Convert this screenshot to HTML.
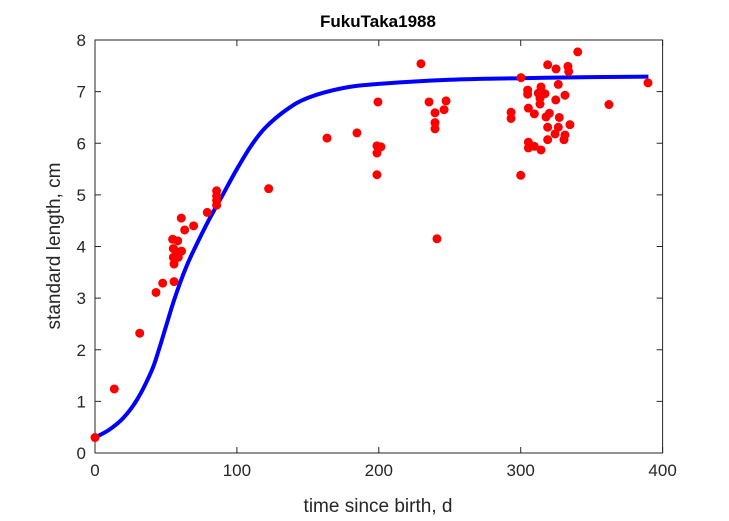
<!DOCTYPE html>
<html><head><meta charset="utf-8"><style>
body{margin:0;background:#fff;}
svg{display:block;font-family:"Liberation Sans",Arial,sans-serif;}
</style></head><body>
<svg id="chart" width="729" height="521">
<rect width="729" height="521" fill="#fff"/>
<rect x="95" y="40" width="567.6" height="413" fill="#fff" stroke="#262626" stroke-width="1"/>
<g id="axes"></g>
<g id="curve"></g>
<g id="points"></g>
<text x="378" y="27" text-anchor="middle" font-size="17" font-weight="bold" fill="#000">FukuTaka1988</text>
<text x="378" y="512" text-anchor="middle" font-size="19" fill="#262626">time since birth, d</text>
<text transform="translate(60,246) rotate(-90)" text-anchor="middle" font-size="19" fill="#262626">standard length, cm</text>
</svg>
<script>
const xTicks=[0,100,200,300,400];
const yTicks=[0,1,2,3,4,5,6,7,8];
const obsX=[0,13.6,31.5,43,47.7,55.7,55.7,55.2,58.7,55.2,61,57.6,54.7,58.3,60.8,63.2,69.5,79.1,85.7,85.7,85.7,85.7,122.4,
163.5,184.6,198.7,198.7,201.5,199.4,198.7,229.7,235.4,239.6,239.6,239.6,241,247.4,246,
340.2,319,324.9,333.3,333.8,300.2,389.7,326.5,304.9,314.3,304.9,312.4,317.1,313.6,331.2,324.7,313.6,362.2,293.2,293.2,305.4,309.6,320.2,317.8,327.2,334.7,319,326.5,324.2,331.2,330.5,319,305.4,305.4,309.6,314.3,300];
const obsY=[0.30,1.24,2.32,3.11,3.29,3.32,3.66,3.79,3.79,3.96,3.91,3.90,4.14,4.11,4.55,4.32,4.40,4.66,5.08,4.98,4.89,4.80,5.12,
6.10,6.20,5.81,5.95,5.93,6.80,5.39,7.54,6.80,6.59,6.40,6.28,4.15,6.82,6.65,
7.77,7.52,7.44,7.49,7.39,7.27,7.17,7.14,7.03,7.09,6.95,6.97,6.96,6.87,6.93,6.84,6.76,6.75,6.60,6.48,6.68,6.57,6.58,6.51,6.50,6.36,6.31,6.31,6.18,6.16,6.07,6.07,6.02,5.91,5.94,5.87,5.38];
const fitX=[0,10,20,30,40,45,50,55,60,65,70,80,90,100,110,120,135,150,175,200,250,300,350,390];
const fitY=[0.3,0.45,0.68,1.05,1.6,2.0,2.45,2.9,3.3,3.65,3.95,4.5,5.0,5.5,5.95,6.3,6.65,6.88,7.07,7.15,7.23,7.26,7.28,7.29];
const X0=95,X1=662.6,Y0=453,Y1=40;
function sx(v){return X0+(v-0)/(400-0)*(X1-X0);}
function sy(v){return Y0-(v-0)/(8-0)*(Y0-Y1);}
const NS="http://www.w3.org/2000/svg";
const axes=document.getElementById('axes');
xTicks.forEach(t=>{
  const x=sx(t);
  const l=document.createElementNS(NS,'path');
  l.setAttribute('d',`M${x},${Y0}v-6M${x},${Y1}v6`);
  l.setAttribute('stroke','#262626');
  
  
  axes.appendChild(l);
  const tx=document.createElementNS(NS,'text');
  tx.setAttribute('x',x);tx.setAttribute('y',Y0+23);
  tx.setAttribute('text-anchor','middle');tx.setAttribute('font-size','17');tx.setAttribute('fill','#262626');
  tx.textContent=t;
  
  
  axes.appendChild(tx);
});
yTicks.forEach(t=>{
  const y=sy(t);
  const l=document.createElementNS(NS,'path');
  l.setAttribute('d',`M${X0},${y}h6M${X1},${y}h-6`);
  l.setAttribute('stroke','#262626');
  
  
  axes.appendChild(l);
  const tx=document.createElementNS(NS,'text');
  tx.setAttribute('x',X0-9);tx.setAttribute('y',y+6);
  tx.setAttribute('text-anchor','end');tx.setAttribute('font-size','17');tx.setAttribute('fill','#262626');
  tx.textContent=t;
  
  
  axes.appendChild(tx);
});
const cg=document.getElementById('curve');
const P=fitX.map((x,i)=>[sx(x),sy(fitY[i])]);
let d=`M${P[0][0]},${P[0][1]}`;
for(let i=0;i<P.length-1;i++){
  const p0=P[Math.max(0,i-1)],p1=P[i],p2=P[i+1],p3=P[Math.min(P.length-1,i+2)];
  const c1x=p1[0]+(p2[0]-p0[0])/6,c1y=p1[1]+(p2[1]-p0[1])/6;
  const c2x=p2[0]-(p3[0]-p1[0])/6,c2y=p2[1]-(p3[1]-p1[1])/6;
  d+=` C${c1x},${c1y} ${c2x},${c2y} ${p2[0]},${p2[1]}`;
}
const pl=document.createElementNS(NS,'path');
pl.setAttribute('d',d);
pl.setAttribute('fill','none');pl.setAttribute('stroke','#0000ff');pl.setAttribute('stroke-width','4');pl.setAttribute('stroke-linejoin','round');


cg.appendChild(pl);
const pg=document.getElementById('points');
obsX.forEach((x,i)=>{
  const c=document.createElementNS(NS,'circle');
  c.setAttribute('cx',sx(x));c.setAttribute('cy',sy(obsY[i]));c.setAttribute('r','4.5');c.setAttribute('fill','#ff0000');
  
  
  pg.appendChild(c);
});
</script>
</body></html>
